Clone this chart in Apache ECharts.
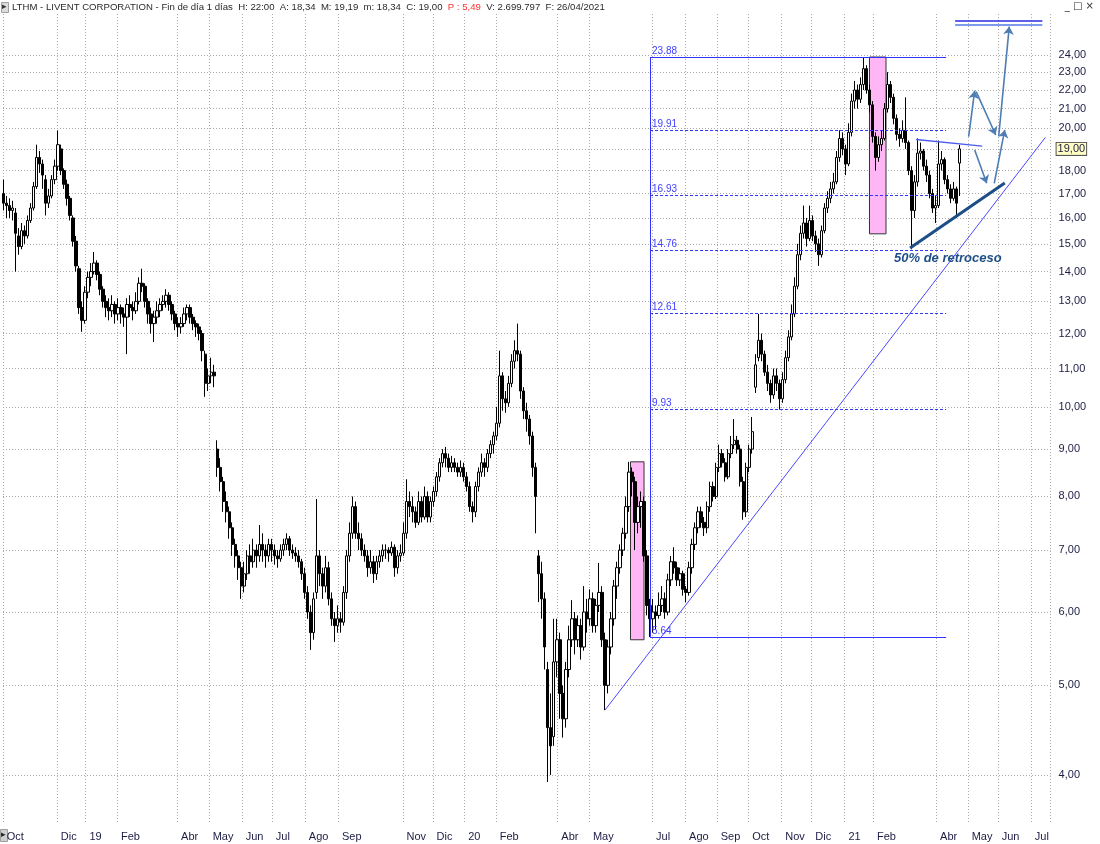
<!DOCTYPE html>
<html><head><meta charset="utf-8">
<script src="https://cdn.jsdelivr.net/npm/echarts@6/dist/echarts.min.js"></script>
<style>html,body{margin:0;padding:0;background:#fff}#c{width:1100px;height:844px}</style>
</head><body><div id="c"></div>
<script>
// ---------- calendar / axis data ----------
const holidays = ['2018-11-22','2018-12-05','2018-12-25','2019-01-01','2019-01-21','2019-02-18','2019-04-19','2019-05-27','2019-07-04','2019-09-02','2019-11-28','2019-12-25','2020-01-01','2020-01-20','2020-02-17','2020-04-10','2020-05-25','2020-07-03','2020-09-07','2020-11-26','2020-12-25','2021-01-01','2021-01-18','2021-02-15','2021-04-02','2021-05-31','2021-07-05'];
const firstDay = '2018-10-11';
const lastDay = '2021-07-20';
const monthLabels = ['Oct','','Dic','19','Feb','','Abr','May','Jun','Jul','Ago','Sep','','Nov','Dic','20','Feb','','Abr','May','','Jul','Ago','Sep','Oct','Nov','Dic','21','Feb','','Abr','May','Jun','Jul'];
const priceTicks = [4,5,6,7,8,9,10,11,12,13,14,15,16,17,18,19,20,21,22,23,24];
const lastClose = 19.00;

// ---------- price bars: [open, high, low, close], one bar per two sessions ----------
const barsOct18May19 = [
[17.0,17.6,16.3,16.6],[16.6,16.9,16.0,16.5],[16.5,16.8,16.0,16.3],[16.3,16.7,15.9,16.4],[16.2,16.4,14.0,15.4],
[15.3,15.6,14.6,14.9],[14.9,15.8,14.8,15.5],[15.5,15.7,15.0,15.3],[15.3,16.1,15.2,15.9],[15.9,16.6,15.8,16.4],
[16.4,17.5,16.3,17.3],[17.3,19.2,17.2,18.6],[18.6,18.9,17.9,18.3],[18.3,18.5,17.2,17.8],[17.6,17.8,16.1,16.6],
[16.6,17.2,16.4,16.9],[16.9,17.8,16.8,17.6],[17.6,18.5,17.4,18.2],[18.2,19.9,18.0,19.2],[19.0,19.2,17.8,18.0],
[18.0,18.1,17.2,17.4],[17.4,17.6,16.5,16.8],[16.8,16.9,15.9,16.1],[16.0,16.1,14.9,15.1],[15.1,15.3,14.0,14.2],
[14.1,14.2,12.6,12.8],[12.8,13.0,12.05,12.4],[12.4,13.5,12.3,13.3],[13.3,14.0,13.1,13.8],[13.8,14.3,13.5,14.0],
[14.0,14.7,13.9,14.3],[14.3,14.4,13.7,13.9],[13.9,14.0,13.2,13.4],[13.4,13.5,12.8,13.0],[13.0,13.2,12.5,12.8],
[12.8,13.1,12.4,12.7],[12.7,13.2,12.5,12.9],[12.9,13.0,12.3,12.6],[12.6,13.1,12.4,12.8],[12.8,12.9,12.3,12.6],
[12.6,12.8,12.2,12.5],[12.5,13.1,11.4,12.9],[12.9,13.2,12.5,12.8],[12.8,13.0,12.4,12.7],[12.7,13.3,12.6,13.0],
[13.0,13.8,12.9,13.6],[13.6,14.1,13.3,13.5],[13.5,13.6,12.8,13.0],[13.0,13.1,12.3,12.6],[12.6,12.8,12.0,12.3],
[12.3,12.7,11.75,12.5],[12.5,13.0,12.3,12.7],[12.7,13.1,12.5,12.9],[12.9,13.2,12.7,13.0],[13.0,13.4,12.8,13.2],
[13.2,13.3,12.7,12.9],[12.9,13.0,12.4,12.6],[12.6,12.7,12.1,12.3],[12.3,12.5,11.9,12.2],[12.2,12.5,12.0,12.3],
[12.3,12.8,12.2,12.6],[12.6,12.9,12.4,12.8],[12.8,12.9,12.3,12.5],[12.5,12.6,12.1,12.3],[12.3,12.4,11.9,12.2],
[12.2,12.3,11.8,12.0],[12.0,12.1,11.2,11.5],[11.4,11.5,10.25,10.6],[10.6,11.0,10.4,10.8],[10.8,11.3,10.6,10.9],
[10.9,11.1,10.5,10.8],[9.0,9.2,8.4,8.6]
];
const barsMay19Mar20 = [
[8.6,8.8,8.1,8.3],[8.3,8.4,7.7,7.9],[7.9,8.1,7.5,7.7],[7.7,7.8,7.2,7.4],[7.4,7.5,6.9,7.1],
[7.1,7.2,6.7,6.9],[6.9,7.0,6.5,6.7],[6.7,6.8,6.2,6.4],[6.4,6.8,6.3,6.6],[6.6,7.0,6.5,6.9],
[6.9,7.1,6.6,6.8],[6.8,7.2,6.7,7.0],[7.0,7.1,6.7,6.9],[6.9,7.45,6.8,7.1],[7.1,7.3,6.8,7.0],
[7.0,7.1,6.7,6.9],[6.9,7.2,6.8,7.1],[7.1,7.2,6.8,7.0],[7.0,7.1,6.75,6.9],[6.9,7.0,6.7,6.85],
[6.85,7.1,6.8,7.0],[7.0,7.2,6.9,7.1],[7.1,7.3,7.0,7.2],[7.2,7.25,6.9,7.0],[7.0,7.1,6.85,6.95],
[6.95,7.05,6.8,6.9],[6.9,7.0,6.7,6.8],[6.8,6.85,6.5,6.6],[6.6,6.7,6.2,6.3],[6.3,6.4,5.9,6.0],
[6.0,6.1,5.46,5.7],[5.7,6.3,5.6,6.2],[6.3,7.95,6.2,6.9],[6.9,7.0,6.4,6.6],[6.6,6.7,6.2,6.4],
[6.4,6.9,6.3,6.7],[6.7,6.8,6.1,6.2],[6.2,6.3,5.8,5.9],[5.9,6.0,5.57,5.8],[5.8,6.1,5.7,5.9],
[5.9,6.0,5.7,5.85],[5.85,6.4,5.8,6.3],[6.3,7.0,6.2,6.9],[6.9,7.5,6.8,7.3],[7.3,8.0,7.2,7.8],
[7.8,7.9,7.2,7.3],[7.3,7.5,7.0,7.2],[7.2,7.3,6.9,7.0],[7.0,7.1,6.8,6.9],[6.9,7.0,6.55,6.7],
[6.7,7.0,6.6,6.8],[6.8,6.9,6.45,6.6],[6.6,6.9,6.5,6.8],[6.8,7.0,6.7,6.9],[6.9,7.1,6.8,7.0],
[7.0,7.1,6.85,7.0],[7.0,7.05,6.8,6.95],[6.95,7.15,6.9,7.05],[7.05,7.1,6.55,6.7],[6.7,7.0,6.6,6.9],
[6.9,7.1,6.8,6.95],[6.95,7.5,6.9,7.3],[7.3,8.35,7.2,7.9],[7.9,8.1,7.6,7.8],[7.8,8.0,7.5,7.7],
[7.7,7.8,7.4,7.5],[7.5,8.1,7.45,7.9],[7.9,8.0,7.5,7.6],[7.6,8.2,7.55,8.0],[8.0,8.1,7.5,7.6],
[7.6,8.0,7.5,7.9],[7.9,8.2,7.8,8.1],[8.1,8.5,8.0,8.4],[8.4,8.8,8.3,8.7],[8.7,9.0,8.6,8.9],
[8.9,9.05,8.6,8.8],[8.8,8.9,8.5,8.6],[8.6,8.85,8.5,8.7],[8.7,8.8,8.5,8.6],[8.6,8.7,8.4,8.5],
[8.5,8.75,8.4,8.6],[8.6,8.7,8.3,8.4],[8.4,8.5,8.1,8.2],[8.2,8.3,7.7,7.8],[7.8,7.9,7.5,7.7],
[7.7,8.3,7.6,8.2],[8.2,8.6,8.1,8.5],[8.5,8.9,8.4,8.7],[8.7,8.8,8.4,8.6],[8.6,9.0,8.5,8.9],
[8.9,9.2,8.8,9.1],[9.1,9.4,8.9,9.3],[9.3,10.0,9.2,9.6],[9.6,11.5,9.5,10.8],[10.8,10.9,9.9,10.2],
[10.2,10.4,9.85,10.1],[10.1,10.8,10.0,10.6],[10.6,11.4,10.5,11.2],[11.2,11.8,11.0,11.5],[11.5,12.3,11.2,11.4],
[11.4,11.5,10.2,10.4],[10.4,10.5,9.7,9.9],[9.9,10.1,9.4,9.7],[9.7,9.8,9.1,9.3],[9.3,9.4,8.4,8.6],
[8.6,8.7,7.3,8.0],[6.9,7.0,6.15,6.6]
];
const barsMar20Jun20 = [
[6.6,6.8,5.9,6.2],[6.2,6.3,5.2,5.5],[5.2,5.3,3.93,4.5],[4.5,4.9,4.0,4.3],[4.4,5.9,4.3,5.3],
[5.3,5.9,5.1,5.6],[5.6,5.7,4.6,4.9],[4.9,5.0,4.39,4.6],[4.6,5.3,4.5,5.2],[5.2,5.8,5.1,5.6],
[5.6,6.18,5.5,5.9],[5.9,6.0,5.4,5.6],[5.6,5.95,5.5,5.8],[5.8,5.9,5.33,5.5],[5.5,6.4,5.45,6.0],
[6.0,6.2,5.7,5.9],[5.9,6.35,5.8,6.2],[6.2,6.3,5.7,5.8],[5.8,6.2,5.7,6.1],[6.1,6.78,6.0,6.3],
[6.3,6.4,5.5,5.6],[5.6,5.7,4.70,5.0],[5.0,5.6,4.9,5.5],[5.5,6.0,5.4,5.9],[5.9,6.5,5.8,6.4],
[6.4,6.8,6.2,6.7],[6.7,7.1,6.6,7.0],[7.0,7.4,6.9,7.3],[7.3,8.0,7.2,7.8],[7.8,8.72,7.7,8.5],
[8.5,8.6,8.0,8.3],[8.3,8.4,7.0,7.5],[7.5,8.0,7.3,7.8],[7.8,8.1,7.4,7.9],[7.9,8.0,6.8,6.9],
[6.9,7.0,5.95,6.1],[6.1,6.2,5.64,5.9]
];
const barsJul20Sep20 = [
[5.9,6.2,5.7,6.0],[6.0,6.1,5.75,5.95],[5.95,6.3,5.9,6.1],[6.1,6.4,6.0,6.2],[6.2,6.3,5.9,6.0],
[6.0,6.6,5.95,6.5],[6.5,6.9,6.4,6.8],[6.8,7.05,6.6,6.7],[6.7,6.8,6.4,6.5],[6.5,6.7,6.4,6.6],
[6.6,6.65,6.25,6.35],[6.35,6.4,6.15,6.3],[6.3,6.8,6.25,6.7],[6.7,7.2,6.6,7.1],[7.1,7.5,7.0,7.4],
[7.4,7.8,7.3,7.7],[7.7,7.8,7.4,7.5],[7.5,7.6,7.25,7.4],[7.4,7.9,7.3,7.8],[7.8,8.3,7.7,8.2],
[8.2,8.3,7.9,8.0],[8.0,8.7,7.95,8.6],[8.6,9.1,8.5,8.9],[8.9,9.0,8.6,8.7],[8.7,8.8,8.3,8.4],
[8.4,9.0,8.35,8.9],[8.9,9.3,8.8,9.1],[9.1,9.7,9.0,9.2],[9.2,9.3,8.9,9.0],[9.0,9.1,8.2,8.3],
[8.3,8.4,7.55,7.7],[7.7,8.7,7.6,8.6],[8.6,9.1,8.5,9.0],[9.0,9.75,8.9,9.4]
];
const barsSep20Oct20 = [
[10.5,11.4,10.35,11.1],[11.3,12.6,11.2,11.8],[11.8,12.0,11.2,11.4],[11.4,11.5,10.8,10.9],[10.9,11.1,10.4,10.6],
[10.6,10.7,10.1,10.3],[10.3,11.0,10.2,10.8],[10.8,11.0,10.4,10.6],[10.6,10.7,9.93,10.2],[10.2,10.9,10.1,10.7],
[10.7,11.5,10.6,11.3],[11.3,12.1,11.2,11.9],[11.9,12.9,11.8,12.6],[12.6,13.8,12.5,13.5],[13.5,15.0,13.4,14.6],
[14.6,15.7,14.4,15.4]
];
const barsNov20Apr21 = [
[15.4,16.5,15.2,15.8],[15.8,16.0,14.9,15.2],[15.2,16.5,15.1,15.9],[15.9,16.1,15.1,15.3],[15.3,15.5,14.7,15.0],
[15.0,15.2,14.2,14.6],[14.6,15.7,14.5,15.5],[15.5,16.6,15.4,16.4],[16.4,17.1,16.2,16.8],[16.8,17.5,16.6,17.2],
[17.2,17.9,17.0,17.5],[17.5,18.9,17.4,18.6],[18.6,19.9,18.4,19.5],[19.5,19.8,18.7,19.0],[19.0,19.2,17.8,18.3],
[18.3,20.25,18.2,19.8],[19.8,21.8,19.6,21.4],[21.4,22.5,21.0,22.0],[22.0,22.3,21.0,21.5],[21.5,22.7,21.3,22.3],
[22.3,23.88,22.0,23.2],[23.2,23.4,21.8,22.0],[22.0,22.3,20.8,21.2],[21.2,21.4,19.3,19.6],[19.6,19.8,18.0,18.6],
[18.6,19.6,18.4,19.2],[19.2,19.9,18.9,19.5],[19.5,21.3,19.4,21.0],[21.0,23.0,20.8,22.3],[22.3,22.5,21.3,21.6],
[21.6,21.8,20.2,20.5],[20.5,20.7,19.4,19.7],[19.7,20.0,19.1,19.5],[19.5,20.4,19.3,19.9],[19.9,21.6,19.0,19.3],
[19.3,19.4,17.8,18.0],[18.0,18.2,14.8,16.3],[16.3,17.8,16.0,17.5],[17.5,19.5,17.3,18.8],[18.8,19.3,18.5,18.9],
[18.9,19.0,18.0,18.2],[18.2,18.5,17.5,17.8],[17.8,18.0,16.8,17.0],[17.0,17.2,16.2,16.4],[16.4,16.9,15.8,16.5],
[16.5,19.4,16.4,18.3],[18.3,18.9,18.0,18.5],[18.5,18.6,17.4,17.6],[17.6,17.8,17.0,17.2],[17.2,17.4,16.6,16.8],
[16.8,17.5,16.7,17.2],[17.2,17.3,16.0,16.6],[18.34,19.19,16.9,19.0]
];

// ---------- annotations (date, price) ----------
const fibStart = '2020-06-29', fibEnd = '2021-04-12';
const fibLevels = [23.88, 19.91, 16.93, 14.76, 12.61, 9.93, 5.64];
const pinkBoxes = [[['2020-06-10', 8.72], ['2020-06-23', 5.60]], [['2021-01-27', 23.88], ['2021-02-11', 15.38]]];
const longTrend = [['2020-05-15', 4.70], ['2021-07-15', 19.55]];
const supportLine = [['2021-03-08', 14.85], ['2021-06-07', 17.45]];
const resistanceLine = [['2021-03-12', 19.45], ['2021-05-14', 19.13]];
const arrows = [
  [['2021-05-03', 19.59], ['2021-05-07', 21.96]],
  [['2021-05-10', 21.91], ['2021-05-27', 19.67]],
  [['2021-05-07', 18.95], ['2021-05-19', 17.44]],
  [['2021-05-26', 17.44], ['2021-06-07', 19.92]],
  [['2021-06-01', 19.62], ['2021-06-10', 25.76]]
];
const targetLines = [[['2021-04-20', 26.14], ['2021-07-13', 26.14]], [['2021-04-20', 25.85], ['2021-07-13', 25.85]]];
const retraceText = ['2021-02-17', 14.45, '50% de retroceso'];

// ---------- build ----------
function pad(n) { return n < 10 ? '0' + n : '' + n; }
const dates = [];
for (let t = Date.UTC(2018, 9, 11); ; t += 86400000) {
  const d = new Date(t);
  const s = d.getUTCFullYear() + '-' + pad(d.getUTCMonth() + 1) + '-' + pad(d.getUTCDate());
  if (s > lastDay) break;
  const wd = d.getUTCDay();
  if (wd === 0 || wd === 6 || holidays.includes(s) || s < firstDay) continue;
  dates.push(s);
}
const labelAt = {};
let mi = 0;
dates.forEach((s, i) => {
  if (i === 0 || s.slice(0, 7) !== dates[i - 1].slice(0, 7)) { labelAt[i] = monthLabels[mi++]; }
});
const allBars = [].concat(barsOct18May19, barsMay19Mar20, barsMar20Jun20, barsJul20Sep20, barsSep20Oct20, barsNov20Apr21);
const candleData = allBars.map((b, k) => [2 * k, b[0], b[3], b[2], b[1]]);

const dayW = 1.503;
const gridLeft = 3, gridTop = 14, gridBottom = 22;
const gridRight = 1100 - gridLeft - dates.length * dayW;

const fmt = v => (Math.round(v * 100) / 100).toFixed(2).replace('.', ',');
const fibBlue = '#3333ff';
const solidFib = [fibLevels[0], fibLevels[fibLevels.length - 1]];
const dashedFib = fibLevels.slice(1, fibLevels.length - 1);
const fibLabel = v => ({ show: true, position: 'insideStartTop', formatter: v.toFixed(2), color: '#4040ff', fontSize: 10, fontFamily: 'Liberation Sans', distance: [2, 1] });
const solidFibLines = solidFib.map(v => [{ coord: [fibStart, v], label: fibLabel(v) }, { coord: [fibEnd, v] }]);
solidFibLines.push([{ coord: [fibStart, solidFib[1]], label: { show: false } }, { coord: [fibStart, solidFib[0]] }]);
const dashedFibLines = dashedFib.map(v => [{ coord: [fibStart, v], label: fibLabel(v) }, { coord: [fibEnd, v] }]);

function lineSeries(data, lineStyle, extra) {
  return {
    type: 'line', data: [], z: 3, silent: true,
    markLine: Object.assign({ silent: true, symbol: ['none', 'none'], label: { show: false }, lineStyle: lineStyle, data: data }, extra || {})
  };
}

const chart = echarts.init(document.getElementById('c'), null, { renderer: 'canvas' });
chart.setOption({
  animation: false,
  backgroundColor: '#ffffff',
  grid: { left: gridLeft, right: gridRight, top: gridTop, bottom: gridBottom },
  xAxis: {
    type: 'category', data: dates, boundaryGap: true,
    axisLine: { show: false }, axisTick: { show: false },
    axisLabel: {
      interval: (i) => !!labelAt[i], formatter: (v, i) => labelAt[i] || '',
      align: 'left', color: '#1c1c44', fontSize: 11, fontFamily: 'Liberation Sans', margin: 9, padding: [0, 0, 0, 3]
    },
    splitLine: { show: true, interval: (i) => !!labelAt[i], lineStyle: { color: '#a9a9a9', width: 1, type: [1, 2] } }
  },
  yAxis: {
    type: 'log', logBase: 10, position: 'right', min: 3.558, max: 26.58,
    axisLine: { show: false },
    axisTick: { show: false, customValues: priceTicks },
    axisLabel: { customValues: priceTicks.filter(v => v !== lastClose), formatter: fmt, color: '#1c1c44', fontSize: 11, fontFamily: 'Liberation Sans', margin: 8 },
    splitLine: { show: true, lineStyle: { color: '#a9a9a9', width: 1, type: [1, 2] } }
  },
  graphic: [
    { type: 'rect', left: 1, top: 2, shape: { width: 7, height: 10 }, style: { fill: '#dcdcdc', stroke: '#a0a0a0' } },
    { type: 'text', left: 2, top: 2, style: { text: '▸', fill: '#333', font: '9px DejaVu Sans' } },
    { type: 'text', left: 12, top: 2, style: {
      text: '{a|LTHM - LIVENT CORPORATION - Fin de día 1 días  H: 22:00  A: 18,34  M: 19,19  m: 18,34  C: 19,00  }{r|P : 5,49}{a|  V: 2.699.797  F: 26/04/2021}',
      rich: { a: { fill: '#2a2a2a', font: '9.6px Liberation Sans' }, r: { fill: '#ff3030', font: '9.6px Liberation Sans' } } } },
    { type: 'text', right: 6, top: 1, style: { text: '_ □ ×', fill: '#333', font: '10px DejaVu Sans' } },
    { type: 'rect', left: 0, top: 829, shape: { width: 7, height: 12 }, style: { fill: '#cfcfcf', stroke: '#a0a0a0' } },
    { type: 'text', left: 1, top: 830, style: { text: '▸', fill: '#222', font: '9px DejaVu Sans' } }
  ],
  series: [
    {
      type: 'line', data: [], z: 1, silent: true,
      markArea: {
        silent: true,
        itemStyle: { color: '#ffb6f5', borderColor: '#333', borderWidth: 1 },
        data: pinkBoxes.map(b => [{ coord: b[0] }, { coord: b[1] }])
      }
    },
    {
      type: 'candlestick', data: candleData, encode: { x: 0, y: [1, 2, 3, 4] }, z: 2, large: false,
      barWidth: 2.8,
      itemStyle: { color: '#ffffff', color0: '#000000', borderColor: '#000000', borderColor0: '#000000', borderWidth: 1 },
      markLine: {
        silent: true, symbol: ['none', 'none'],
        lineStyle: { color: 'rgba(255,255,255,0)', width: 1, opacity: 1 },
        data: [{ yAxis: lastClose }],
        label: { show: true, position: 'end', distance: 6, opacity: 1, formatter: () => fmt(lastClose), color: '#1c1c44', fontSize: 11, fontFamily: 'Liberation Sans', backgroundColor: '#ffffc4', borderColor: '#555', borderWidth: 1, padding: [1, 1, 0, 1] }
      }
    },
    lineSeries(solidFibLines, { color: fibBlue, width: 1, type: 'solid' }),
    lineSeries(dashedFibLines, { color: fibBlue, width: 1.2, type: [3, 2] }),
    lineSeries([[{ coord: longTrend[0] }, { coord: longTrend[1] }]], { color: '#4848ff', width: 1, type: 'solid' }),
    lineSeries([[{ coord: supportLine[0] }, { coord: supportLine[1] }]], { color: '#1d4e87', width: 3, type: 'solid' }),
    lineSeries([[{ coord: resistanceLine[0] }, { coord: resistanceLine[1] }]], { color: '#4a5df0', width: 1.3, type: 'solid' }),
    lineSeries([[{ coord: targetLines[0][0] }, { coord: targetLines[0][1] }]], { color: '#2a2ae6', width: 1.5, type: 'solid' }),
    lineSeries([[{ coord: targetLines[1][0] }, { coord: targetLines[1][1] }]], { color: '#7d9be8', width: 2, type: 'solid' }),
    lineSeries(arrows.map(a => [{ coord: a[0] }, { coord: a[1] }]), { color: '#4e7db4', width: 1.6, type: 'solid' },
      { symbol: ['none', 'arrow'], symbolSize: 8 }),
    {
      type: 'line', data: [], z: 4, silent: true,
      markPoint: {
        symbol: 'circle', symbolSize: 1, itemStyle: { color: 'rgba(0,0,0,0)' },
        data: [{ coord: [retraceText[0], retraceText[1]],
          label: { show: true, position: 'right', distance: 3, formatter: retraceText[2], color: '#1f4f88', fontSize: 13, fontWeight: 'bold', fontStyle: 'italic', fontFamily: 'Liberation Sans' } }]
      }
    }
  ]
});
</script></body></html>
